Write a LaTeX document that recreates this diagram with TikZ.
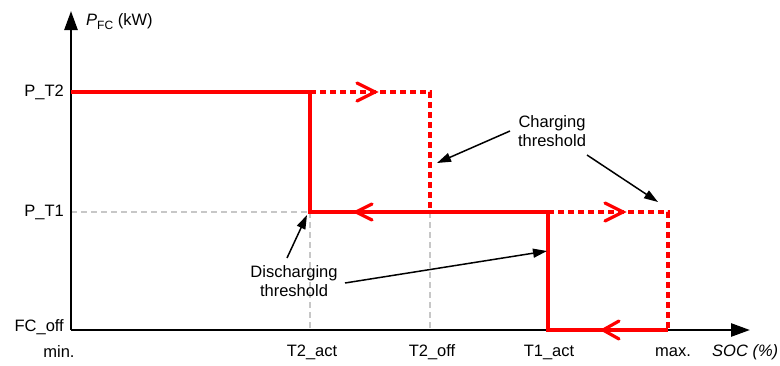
\documentclass[tikz,border=0pt]{standalone}
\usepackage{fontspec}
\setmainfont{Liberation Sans}
\usetikzlibrary{arrows.meta}
\begin{document}
\begin{tikzpicture}[x=1pt,y=-1pt, font=\fontsize{16.5}{19}\selectfont,
  every node/.style={inner sep=1pt},
  redline/.style={draw=red, line width=3.2pt, line join=miter},
  reddash/.style={draw=red, line width=3.2pt, dash pattern=on 6pt off 4pt},
  graydash/.style={draw=black!22, line width=2.5pt, dash pattern=on 6pt off 4pt},
  axisline/.style={line width=2.6pt, -{Triangle[length=19pt,width=13pt]}},
  callout/.style={line width=1.5pt, -{Triangle[length=14pt,width=9pt]}},
  chev/.style={draw=red, line width=3.2pt, line cap=round, line join=miter}
]
\useasboundingbox (0,0) rectangle (780,365);
% coordinates
\coordinate (O) at (71,330);
\coordinate (Ytop) at (71,11);
\coordinate (Xend) at (750,330);
\coordinate (A) at (71,92);
\coordinate (B) at (310,92);
\coordinate (C) at (310,212);
\coordinate (D) at (548,212);
\coordinate (E) at (548,330);
\coordinate (F) at (668,330);
\coordinate (G) at (430,92);
\coordinate (H) at (430,212);
\coordinate (I) at (668,212);
\coordinate (Y1) at (71,212);
\coordinate (C0) at (310,330);
\coordinate (H0) at (430,330);
% gray guides
\draw[graydash] (Y1) -- (C);
\draw[graydash] (C) -- (C0);
\draw[graydash] (H) -- (H0);
% axes
\draw[axisline] (O) -- (Ytop);
\draw[axisline] (O) -- (Xend);
% red paths
\draw[redline] (A) -- (B) -- (C) -- (D) -- (E) -- (F);
\draw[reddash] (B) -- (G) -- (H);
\draw[reddash] (D) -- (I) -- (F);
% chevrons
\draw[chev] (357,83) -- (375,92) -- (357,101);
\draw[chev] (372,204) -- (356,212) -- (372,220);
\draw[chev] (605,203) -- (623,212) -- (605,221);
\draw[chev] (619,321) -- (603,330) -- (619,339);
% labels
\node (ylab) [anchor=west] at (85,22) {\textit{P}\raisebox{-0.45ex}{\fontsize{12}{14}\selectfont FC} (kW)};
\node (pt2) [anchor=east] at (65,92) {P\_T2};
\node (pt1) [anchor=east] at (65,212) {P\_T1};
\node (fcoff) [anchor=east] at (65,327) {FC\_off};
\node (min) at (59,352) {min.};
\node (t2act) at (312,352) {T2\_act};
\node (t2off) at (432,352) {T2\_off};
\node (t1act) at (549,352) {T1\_act};
\node (max) at (673,352) {max.};
\node (soc) [anchor=west] at (711,352) {\textit{SOC (\%)}};
\node (chg) [align=center] at (552,131) {Charging\\threshold};
\node (dis) [align=center] at (294,281) {Discharging\\threshold};
% callouts
\coordinate (c1s) at (510,131);
\coordinate (c1e) at (437,163);
\coordinate (c2s) at (587,155);
\coordinate (c2e) at (658,202);
\coordinate (d1s) at (287,258);
\coordinate (d1e) at (307,215);
\coordinate (d2s) at (345,283);
\coordinate (d2e) at (547,251);
\draw[callout] (c1s) -- (c1e);
\draw[callout] (c2s) -- (c2e);
\draw[callout] (d1s) -- (d1e);
\draw[callout] (d2s) -- (d2e);
\end{tikzpicture}
\end{document}
